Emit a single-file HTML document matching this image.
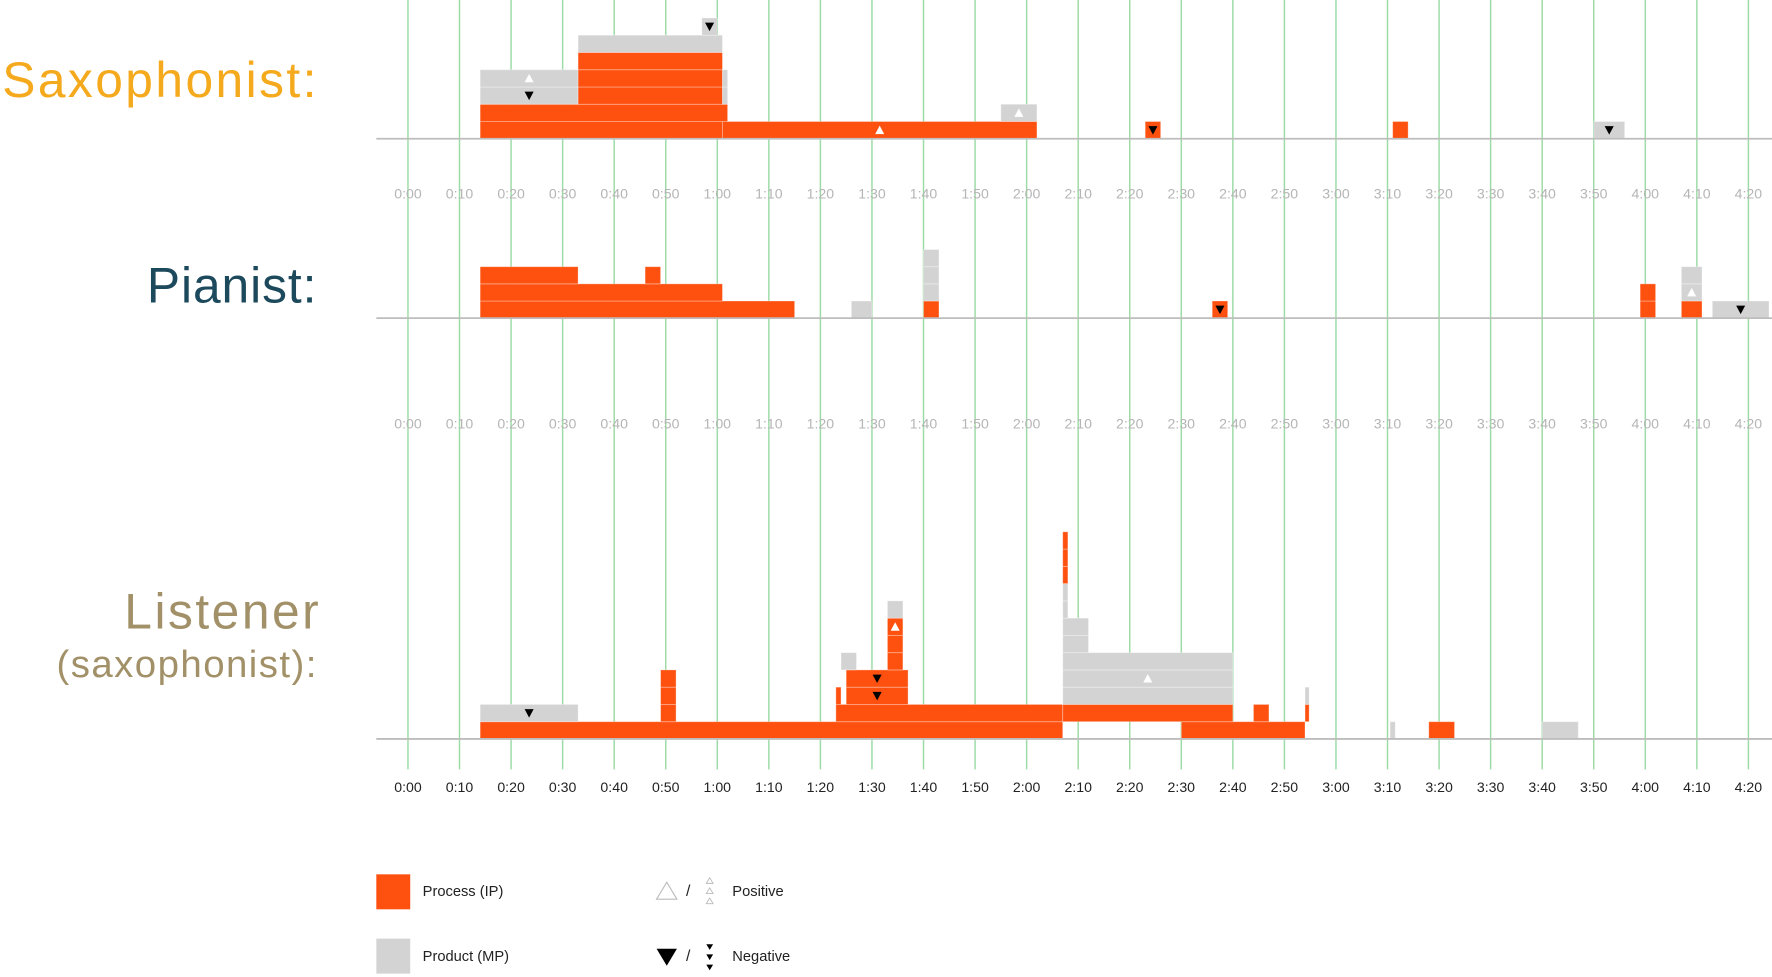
<!DOCTYPE html>
<html><head><meta charset="utf-8"><style>
html,body{margin:0;padding:0;background:#fff;}
svg{display:block;}
text{font-family:"Liberation Sans",sans-serif;}
</style></head><body>
<svg id="chart" width="1772" height="977" viewBox="0 0 1568 866" preserveAspectRatio="none" xmlns="http://www.w3.org/2000/svg">
<g id="grid"></g>
<g id="marks"></g>
<g id="axes"></g>
<text x="2" y="86" textLength="278" lengthAdjust="spacing" font-size="44" fill="#F5A91D">Saxophonist:</text>
<text x="130" y="268" textLength="150" lengthAdjust="spacing" font-size="44" fill="#1C4A5C">Pianist:</text>
<text x="110" y="557" textLength="172" lengthAdjust="spacing" font-size="44" fill="#A29168">Listener</text>
<text x="50" y="600" textLength="230" lengthAdjust="spacing" font-size="34" fill="#A29168">(saxophonist):</text>
<g>
<rect x="333" y="775" width="30" height="31" fill="#FE500E"/>
<text x="374" y="794" font-size="13" fill="#222">Process (IP)</text>
<rect x="333" y="832" width="30" height="31" fill="#D3D3D3"/>
<text x="374" y="852" font-size="13" fill="#222">Product (MP)</text>
<polygon points="581,797 599,797 590,782" fill="none" stroke="#bbb"/>
<text x="607" y="794" font-size="14" fill="#222">/</text>
<g fill="none" stroke="#bbb" stroke-width="0.8">
<polygon points="625,783 631,783 628,778"/><polygon points="625,792 631,792 628,787"/><polygon points="625,801 631,801 628,796"/></g>
<text x="648" y="794" font-size="13" fill="#222">Positive</text>
<polygon points="581,841 599,841 590,856" fill="#000"/>
<text x="607" y="852" font-size="14" fill="#222">/</text>
<g fill="#000">
<polygon points="625,837 631,837 628,842"/><polygon points="625,846 631,846 628,851"/><polygon points="625,855 631,855 628,860"/></g>
<text x="648" y="852" font-size="13" fill="#222">Negative</text>
</g>
</svg>
<script>
const tickLabels = ["0:00","0:10","0:20","0:30","0:40","0:50","1:00","1:10","1:20","1:30","1:40","1:50","2:00","2:10","2:20","2:30","2:40","2:50","3:00","3:10","3:20","3:30","3:40","3:50","4:00","4:10","4:20"];
// segments: [startSec, endSec, row, type(P=process,M=product), marker(u=up,d=down,'')]
const saxSegments = [
[14,61,0,"P",""],[61,122,0,"P","u"],[143,146,0,"P","d"],[191,194,0,"P",""],[230,236,0,"M","d"],
[14,62,1,"P",""],[115,122,1,"M","u"],
[14,33,2,"M","d"],[33,61,2,"P",""],[61,62,2,"M",""],
[14,33,3,"M","u"],[33,61,3,"P",""],[61,62,3,"M",""],
[33,61,4,"P",""],[33,61,5,"M",""],[57,60,6,"M","d"]
];
const pianoSegments = [
[14,75,0,"P",""],[86,90,0,"M",""],[100,103,0,"P",""],[156,159,0,"P","d"],[239,242,0,"P",""],[247,251,0,"P",""],[253,264,0,"M","d"],
[14,61,1,"P",""],[100,103,1,"M",""],[239,242,1,"P",""],[247,251,1,"M","u"],
[14,33,2,"P",""],[46,49,2,"P",""],[100,103,2,"M",""],[247,251,2,"M",""],
[100,103,3,"M",""]
];
const listenerSegments = [
[14,127,0,"P",""],[150,174,0,"P",""],[198,203,0,"P",""],[220,227,0,"M",""],[190.5,191.5,0,"M",""],
[14,33,1,"M","d"],[49,52,1,"P",""],[83,127,1,"P",""],[127,160,1,"P",""],[164,167,1,"P",""],[174,174.8,1,"P",""],
[49,52,2,"P",""],[83,84,2,"P",""],[85,97,2,"P","d"],[127,160,2,"M",""],[174,174.8,2,"M",""],
[49,52,3,"P",""],[85,97,3,"P","d"],[127,160,3,"M","u"],
[84,87,4,"M",""],[93,96,4,"P",""],[127,160,4,"M",""],
[93,96,5,"P",""],[127,132,5,"M",""],
[93,96,6,"P","u"],[127,132,6,"M",""],
[93,96,7,"M",""],[127,128,7,"M",""],[127,128,8,"M",""],[127,128,9,"P",""],[127,128,10,"P",""],[127,128,11,"P",""]
];
const NS="http://www.w3.org/2000/svg";
const x0=361, pxPerSec=4.562;
function xs(t){return x0+t*pxPerSec;}
const panels=[
 {name:"saxophonist",data:saxSegments,base:123,rowH:15.3,tickY:176,tickColor:"#b5b5b5"},
 {name:"pianist",data:pianoSegments,base:282,rowH:15.2,tickY:380,tickColor:"#b5b5b5"},
 {name:"listener",data:listenerSegments,base:655,rowH:15.3,tickY:702,tickColor:"#222"}
];
function mk(tag,attrs,parent){const e=document.createElementNS(NS,tag);for(const k in attrs)e.setAttribute(k,attrs[k]);parent.appendChild(e);return e;}
const grid=document.getElementById('grid'),marks=document.getElementById('marks'),axes=document.getElementById('axes');
tickLabels.forEach((lab,i)=>{
 const x=xs(i*10);
 const l=mk('line',{x1:x,y1:0,x2:x,y2:682,stroke:"#9ddba6","stroke-width":1.3},grid);
 
 
});
panels.forEach(p=>{
 const ax=mk('line',{x1:333,y1:p.base,x2:1568,y2:p.base,stroke:"#bdbdbd","stroke-width":1.6},axes);
 
 
 tickLabels.forEach((lab,i)=>{
  const tx=mk('text',{x:xs(i*10),y:p.tickY,"text-anchor":"middle","font-size":12.5,fill:p.tickColor},axes);
  tx.textContent=lab;
  
  
 });
 p.data.forEach(s=>{
  const x1=xs(s[0]),x2=xs(s[1]);
  const y=p.base-(s[2]+1)*p.rowH;
  const r=mk('rect',{x:x1,y:y,width:Math.max(1,x2-x1),height:p.rowH,fill:s[3]==="P"?"#FE500E":"#D3D3D3",stroke:"#ffffff","stroke-opacity":0.35,"stroke-width":0.8},marks);
  
  
  if(s[4]){
   const cx=(x1+x2)/2, cy=y+p.rowH/2;
   const pts=s[4]==="u"?`${cx-4},${cy+3.5} ${cx+4},${cy+3.5} ${cx},${cy-4}`:`${cx-4},${cy-3.5} ${cx+4},${cy-3.5} ${cx},${cy+4}`;
   const t=mk('polygon',{points:pts,fill:s[4]==="u"?"#fff":"#000"},marks);
   
   
  }
 });
});
</script>
</body></html>
